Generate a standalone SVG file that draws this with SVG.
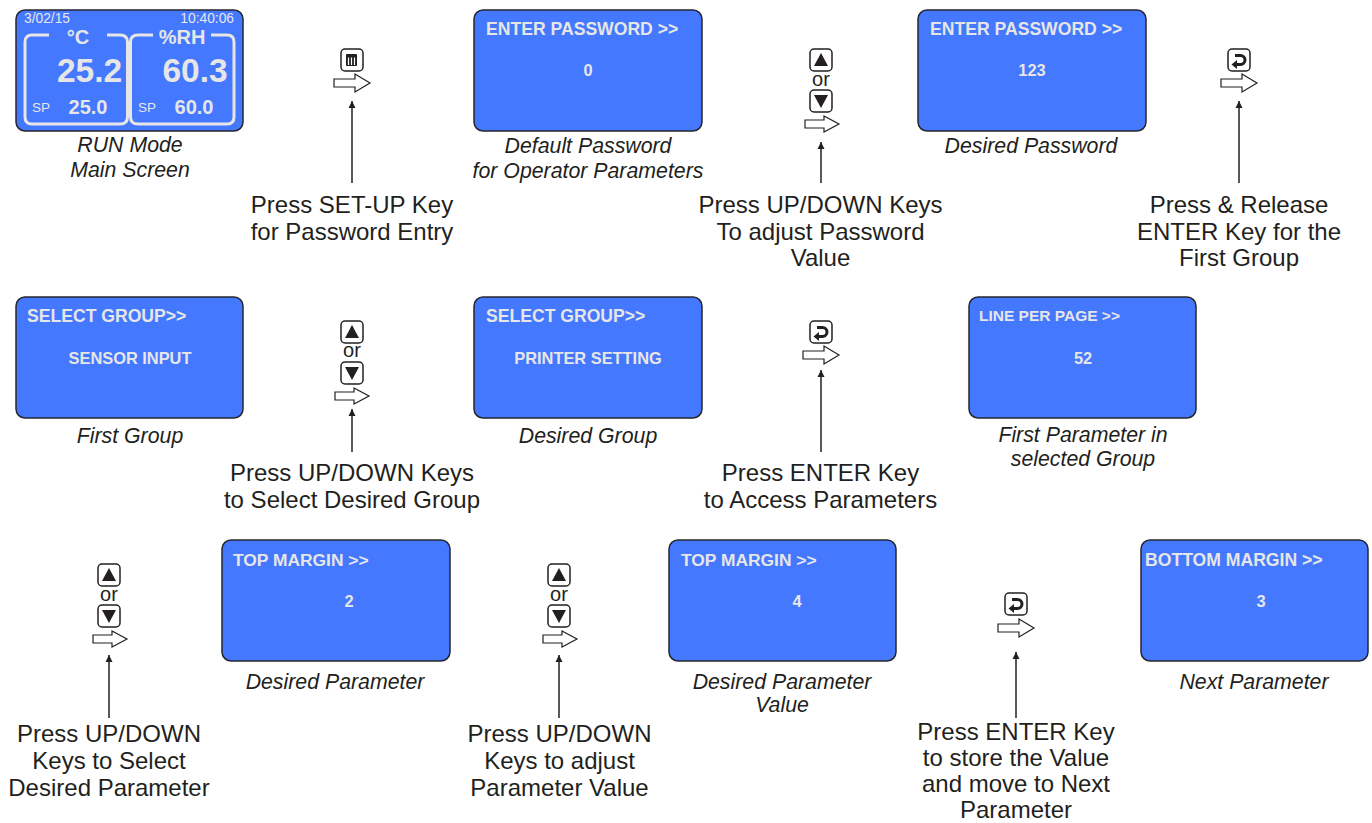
<svg xmlns="http://www.w3.org/2000/svg" width="1372" height="823" viewBox="0 0 1372 823">
<style>
text{font-family:"Liberation Sans",Arial,sans-serif}
.scr{fill:#4478ff;stroke:#26262e;stroke-width:1.5}
.h{fill:#e6e6e6;font-size:17.6px;font-weight:bold}
.v{fill:#e6e6e6;font-size:16.4px;font-weight:bold;text-anchor:middle}
.cap{fill:#231f20;font-size:21.3px;font-style:italic;text-anchor:middle}
.lab{fill:#231f20;font-size:24px;text-anchor:middle}
.or{fill:#231f20;font-size:20px;text-anchor:middle}
.key{fill:#fff;stroke:#231f20;stroke-width:1.5}
.hol{fill:#fff;stroke:#231f20;stroke-width:1.2}
.ln{fill:none;stroke:#231f20;stroke-width:1.5;marker-end:url(#ah)}
.fr{fill:none;stroke:#e6e6e6;stroke-width:3}
.g{fill:#e6e6e6}
</style>
<defs>
<marker id="ah" markerUnits="userSpaceOnUse" markerWidth="8" markerHeight="8" refX="7" refY="4" orient="auto"><path d="M0,0.5L7,4L0,7.5z" fill="#231f20"/></marker>
<path id="ha" class="hol" d="M0,-4H21V-9L36,0L21,9V4H0z"/>
<path id="hb" class="hol" d="M0,-4H19V-8L34,0L19,8V4H0z"/>
<g id="up"><rect class="key" x="-11" y="-11" width="22" height="22" rx="4"/><path d="M-7,6L0,-7L7,6z" fill="#231f20"/></g>
<g id="dn"><rect class="key" x="-11" y="-11" width="22" height="22" rx="4"/><path d="M-7,-6L0,7L7,-6z" fill="#231f20"/></g>
<g id="ent"><rect class="key" x="-11" y="-11" width="22" height="22" rx="4"/><path d="M-4,-4.5H1.5A4.5,4.5 0 0 1 1.5,4.5H-3" fill="none" stroke="#231f20" stroke-width="3"/><path d="M-7.5,4.5L-2,0V9z" fill="#231f20"/></g>
<g id="set"><rect class="key" x="-11" y="-11" width="22" height="22" rx="4"/><rect x="-6" y="-6" width="11" height="12" rx="1" fill="#231f20"/><path d="M-3.5,-2.5V5M-0.5,-2.5V5M2.5,-2.5V5" stroke="#fff" stroke-width="1.2"/></g>
</defs>

<g id="connectors">
<path class="ln" d="M352,183V101"/>
<path class="ln" d="M821,183V142"/>
<path class="ln" d="M1239,183V101"/>
<path class="ln" d="M352,452V409"/>
<path class="ln" d="M821,452V370"/>
<path class="ln" d="M109,718V655"/>
<path class="ln" d="M559,718V655"/>
<path class="ln" d="M1016,718V652"/>
</g>

<g id="keys1"><use href="#set" x="352" y="60"/><use href="#ha" x="334" y="83"/></g>
<g id="keys2"><use href="#up" x="821" y="60"/><text class="or" x="821" y="86">or</text><use href="#dn" x="821" y="101"/><use href="#hb" x="805" y="124"/></g>
<g id="keys3"><use href="#ent" x="1239" y="60"/><use href="#ha" x="1221" y="83"/></g>
<g id="keys4"><use href="#up" x="352" y="332"/><text class="or" x="352" y="357">or</text><use href="#dn" x="352" y="373"/><use href="#hb" x="335" y="396"/></g>
<g id="keys5"><use href="#ent" x="821" y="332"/><use href="#ha" x="803" y="355"/></g>
<g id="keys6"><use href="#up" x="109" y="575"/><text class="or" x="109" y="601">or</text><use href="#dn" x="109" y="616"/><use href="#hb" x="93" y="639"/></g>
<g id="keys7"><use href="#up" x="559" y="575"/><text class="or" x="559" y="601">or</text><use href="#dn" x="559" y="616"/><use href="#hb" x="543" y="639"/></g>
<g id="keys8"><use href="#ent" x="1016" y="604"/><use href="#ha" x="998" y="628"/></g>

<g id="main">
<rect class="scr" x="16" y="10" width="227" height="121" rx="9"/>
<path class="fr" d="M49,35H32Q25,35 25,42V117Q25,124 32,124H120Q127.5,124 127.5,117V42Q127.5,35 120,35H107"/>
<path class="fr" d="M153,35H138Q130.5,35 130.5,42V117Q130.5,124 138,124H227Q234,124 234,117V42Q234,35 227,35H211"/>
<text x="24" y="23" fill="#e6e6e6" font-size="13.8">3/02/15</text>
<text x="234" y="23" fill="#e6e6e6" font-size="13.8" text-anchor="end">10:40:06</text>
<text class="g" x="78" y="44" font-size="20" font-weight="bold" text-anchor="middle">°C</text>
<text class="g" x="182" y="44" font-size="20" font-weight="bold" text-anchor="middle">%RH</text>
<text class="g" x="89.500" y="82" font-size="33.500" font-weight="bold" text-anchor="middle">25.2</text>
<text class="g" x="195" y="82" font-size="33.500" font-weight="bold" text-anchor="middle">60.3</text>
<text class="g" x="32" y="112" font-size="12.500" textLength="18" lengthAdjust="spacingAndGlyphs">SP</text>
<text class="g" x="138" y="112" font-size="12.500" textLength="18" lengthAdjust="spacingAndGlyphs">SP</text>
<text class="g" x="88" y="114" font-size="20" font-weight="bold" text-anchor="middle">25.0</text>
<text class="g" x="194" y="114" font-size="20" font-weight="bold" text-anchor="middle">60.0</text>
<text class="cap" x="130" y="152">RUN Mode</text>
<text class="cap" x="130" y="177">Main Screen</text>
</g>

<g id="pw1"><rect class="scr" x="474" y="10" width="228" height="121" rx="9"/><text class="h" x="486" y="35">ENTER PASSWORD &gt;&gt;</text><text class="v" x="588" y="76">0</text><text class="cap" x="588" y="153">Default Password</text><text class="cap" x="588" y="178">for Operator Parameters</text></g>
<g id="pw2"><rect class="scr" x="918" y="10" width="228" height="121" rx="9"/><text class="h" x="930" y="35">ENTER PASSWORD &gt;&gt;</text><text class="v" x="1032" y="76">123</text><text class="cap" x="1031" y="153">Desired Password</text></g>

<g id="g1"><rect class="scr" x="16" y="297" width="227" height="121" rx="9"/><text class="h" x="27" y="322">SELECT GROUP&gt;&gt;</text><text class="v" x="130" y="364">SENSOR INPUT</text><text class="cap" x="130" y="443">First Group</text></g>
<g id="g2"><rect class="scr" x="474" y="297" width="228" height="121" rx="9"/><text class="h" x="486" y="322">SELECT GROUP&gt;&gt;</text><text class="v" x="588" y="364">PRINTER SETTING</text><text class="cap" x="588" y="443">Desired Group</text></g>
<g id="g3"><rect class="scr" x="969" y="297" width="227" height="121" rx="9"/><text class="h" x="979" y="321" style="font-size:15.500px">LINE PER PAGE &gt;&gt;</text><text class="v" x="1083" y="364">52</text><text class="cap" x="1083" y="442">First Parameter in</text><text class="cap" x="1083" y="466">selected Group</text></g>

<g id="p1"><rect class="scr" x="222" y="540" width="228" height="121" rx="9"/><text class="h" x="233" y="566" style="font-size:17.400px">TOP MARGIN &gt;&gt;</text><text class="v" x="349" y="607">2</text><text class="cap" x="335" y="689">Desired Parameter</text></g>
<g id="p2"><rect class="scr" x="669" y="540" width="227" height="121" rx="9"/><text class="h" x="681" y="566" style="font-size:17.400px">TOP MARGIN &gt;&gt;</text><text class="v" x="797" y="607">4</text><text class="cap" x="782" y="689">Desired Parameter</text><text class="cap" x="782" y="712">Value</text></g>
<g id="p3"><rect class="scr" x="1141" y="540" width="227" height="121" rx="9"/><text class="h" x="1145" y="566">BOTTOM MARGIN &gt;&gt;</text><text class="v" x="1261" y="607">3</text><text class="cap" x="1254" y="689">Next Parameter</text></g>

<g id="labels">
<text class="lab" x="352" y="213">Press SET-UP Key</text><text class="lab" x="352" y="240">for Password Entry</text>
<text class="lab" x="820.500" y="213">Press UP/DOWN Keys</text><text class="lab" x="820.500" y="240">To adjust Password</text><text class="lab" x="820.500" y="266">Value</text>
<text class="lab" x="1239" y="213">Press &amp; Release</text><text class="lab" x="1239" y="240">ENTER Key for the</text><text class="lab" x="1239" y="266">First Group</text>
<text class="lab" x="352" y="481">Press UP/DOWN Keys</text><text class="lab" x="352" y="508">to Select Desired Group</text>
<text class="lab" x="820.500" y="481">Press ENTER Key</text><text class="lab" x="820.500" y="508">to Access Parameters</text>
<text class="lab" x="109" y="742">Press UP/DOWN</text><text class="lab" x="109" y="769">Keys to Select</text><text class="lab" x="109" y="796">Desired Parameter</text>
<text class="lab" x="559.500" y="742">Press UP/DOWN</text><text class="lab" x="559.500" y="769">Keys to adjust</text><text class="lab" x="559.500" y="796">Parameter Value</text>
<text class="lab" x="1016" y="740">Press ENTER Key</text><text class="lab" x="1016" y="766">to store the Value</text><text class="lab" x="1016" y="792">and move to Next</text><text class="lab" x="1016" y="817.500">Parameter</text>
</g>
</svg>
